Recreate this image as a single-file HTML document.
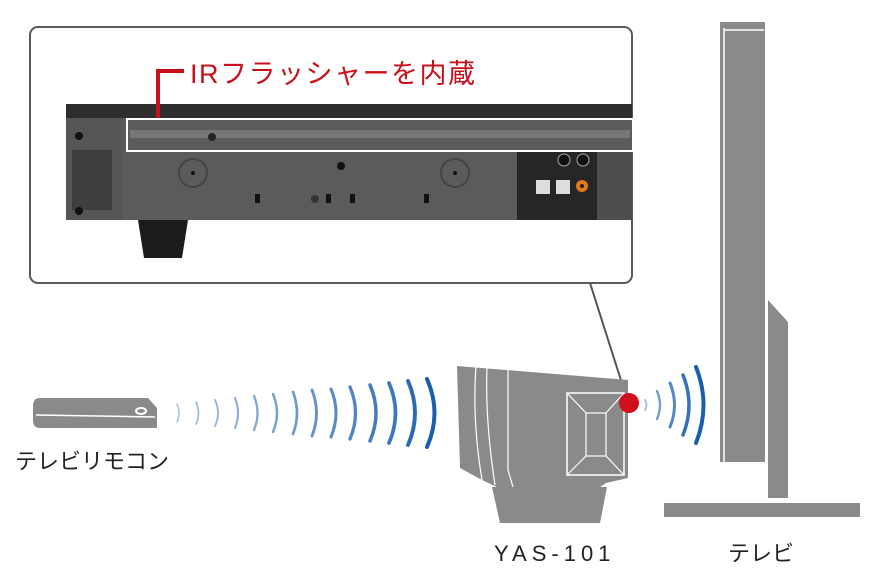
<!DOCTYPE html>
<html><head><meta charset="utf-8"><style>
html,body{margin:0;padding:0;background:#fff;}
svg{display:block;}
text{font-family:"Liberation Sans","Noto Sans CJK JP",sans-serif;}
</style></head><body>
<svg width="872" height="573" viewBox="0 0 872 573" xmlns="http://www.w3.org/2000/svg">
<rect x="30" y="27" width="602" height="256" rx="8" fill="#fff" stroke="#5a5a5a" stroke-width="2"/>
<rect x="66" y="104" width="566" height="15" fill="#2e2e2e"/>
<rect x="66" y="118" width="566" height="102" fill="#5b5b5b"/>
<rect x="66" y="118" width="56" height="102" fill="#555"/>
<rect x="72" y="150" width="40" height="60" fill="#3e3e3e"/>
<rect x="517" y="150" width="115" height="70" fill="#262626"/>
<rect x="597" y="150" width="35" height="70" fill="#4e4e4e"/>
<path d="M138 220 L188 220 L182 258 L144 258 Z" fill="#1c1c1c"/>
<rect x="127" y="119" width="506" height="32" fill="none" stroke="#fff" stroke-width="2"/>
<rect x="130" y="130" width="500" height="8" fill="#777"/>
<circle cx="79" cy="136" r="4" fill="#111"/><circle cx="79" cy="211" r="4" fill="#111"/>
<circle cx="193" cy="173" r="14" fill="none" stroke="#444" stroke-width="2"/><circle cx="193" cy="173" r="2" fill="#111"/>
<circle cx="455" cy="173" r="14" fill="none" stroke="#444" stroke-width="2"/><circle cx="455" cy="173" r="2" fill="#111"/>
<circle cx="341" cy="166" r="4" fill="#111"/><circle cx="212" cy="137" r="4" fill="#222"/>
<circle cx="315" cy="199" r="4" fill="#333"/>
<rect x="255" y="194" width="5" height="9" fill="#111"/><rect x="326" y="194" width="5" height="9" fill="#111"/>
<rect x="350" y="194" width="5" height="9" fill="#111"/><rect x="424" y="194" width="5" height="9" fill="#111"/>
<rect x="536" y="180" width="14" height="14" fill="#ddd"/><rect x="556" y="180" width="14" height="14" fill="#ddd"/>
<circle cx="582" cy="186" r="6" fill="#e07a1a"/><circle cx="582" cy="186" r="2" fill="#222"/>
<circle cx="564" cy="160" r="6" fill="#111" stroke="#aaa"/><circle cx="583" cy="160" r="6" fill="#111" stroke="#aaa"/>
<path d="M158 118 V71 H184" fill="none" stroke="#c8101c" stroke-width="4"/>
<text x="190" y="83" font-size="27" fill="#c8101c" letter-spacing="1.5">IRフラッシャーを内蔵</text>
<line x1="590" y1="283" x2="626" y2="396" stroke="#555" stroke-width="2"/>
<path d="M457 366 L628 380 L628 478 L606 483 L600 487 L497 487 L482 480 L460 468 Z" fill="#8a8a8a"/>
<path d="M492 487 L607 487 L600 523 L500 523 Z" fill="#8a8a8a"/>
<path d="M476 366 Q472 420 482 480 M487 367 Q485 420 495 485 M508 368 V470 L513 487" fill="none" stroke="#fff" stroke-width="1.2"/>
<rect x="567" y="393" width="57" height="82" fill="none" stroke="#fff" stroke-width="1.5"/>
<rect x="586" y="413" width="20" height="43" fill="none" stroke="#fff" stroke-width="1.2"/>
<path d="M567 393 L586 413 M624 393 L606 413 M567 475 L586 456 M624 475 L606 456" stroke="#fff" stroke-width="1.2"/>
<circle cx="629" cy="403" r="10" fill="#d0101c"/>
<path d="M720 22 L765 22 L765 462 L720 462 Z" fill="#8a8a8a"/>
<line x1="725" y1="30" x2="764" y2="30" stroke="#fff" stroke-width="1.5"/>
<line x1="724" y1="28" x2="724" y2="462" stroke="#fff" stroke-width="1.5"/>
<path d="M768 300 L788 322 L788 498 L768 498 Z" fill="#8a8a8a"/>
<rect x="664" y="503" width="196" height="14" fill="#8a8a8a"/>
<path d="M40 398 L148 398 L157 408 L157 428 L40 428 Q33 428 33 420 L33 406 Q33 398 40 398 Z" fill="#8a8a8a"/>
<path d="M36 415 L155 417" stroke="#fff" stroke-width="1.5"/>
<ellipse cx="141" cy="411" rx="5" ry="3" fill="none" stroke="#fff" stroke-width="2"/>
<g fill="none" stroke-linecap="round">
<path d="M177 404 Q181 413 177 422" stroke="#aac2e2" stroke-width="1.5"/>
<path d="M196 402 Q201 413 196 424" stroke="#a0bbdf" stroke-width="1.7"/>
<path d="M215 400 Q221 413 215 426" stroke="#97b4db" stroke-width="1.9"/>
<path d="M235 398 Q241 413 235 428" stroke="#8daed8" stroke-width="2.1"/>
<path d="M254 396 Q261 413 254 430" stroke="#83a7d4" stroke-width="2.3"/>
<path d="M273 394 Q281 413 273 432" stroke="#79a0d1" stroke-width="2.5"/>
<path d="M293 392 Q301 413 293 434" stroke="#6f99cd" stroke-width="2.7"/>
<path d="M312 390 Q321 413 312 436" stroke="#6592c9" stroke-width="2.9"/>
<path d="M331 389 Q341 413 331 437" stroke="#5b8bc6" stroke-width="3.1"/>
<path d="M350 387 Q361 413 350 439" stroke="#5184c2" stroke-width="3.3"/>
<path d="M370 385 Q382 413 370 441" stroke="#477dbe" stroke-width="3.5"/>
<path d="M389 383 Q402 413 389 443" stroke="#3d76ba" stroke-width="3.7"/>
<path d="M408 381 Q422 413 408 445" stroke="#2a6ab4" stroke-width="3.9"/>
<path d="M427 379 Q442 413 427 447" stroke="#1a5fae" stroke-width="4"/>
</g>
<g fill="none" stroke-linecap="round">
<path d="M645 400 Q648 405 645 410" stroke="#a0bbdf" stroke-width="1.8"/>
<path d="M657 391 Q663 405 657 419" stroke="#7aa0d1" stroke-width="2.5"/>
<path d="M670 383 Q679 405 670 427" stroke="#5587c3" stroke-width="3"/>
<path d="M683 375 Q695 405 683 435" stroke="#3572b8" stroke-width="3.5"/>
<path d="M696 367 Q711 405 696 443" stroke="#1a5fae" stroke-width="4"/>
</g>
<text x="15" y="469" font-size="22" fill="#222">テレビリモコン</text>
<text x="494" y="561" font-size="22" fill="#222" letter-spacing="5">YAS-101</text>
<text x="728" y="561" font-size="22" fill="#222">テレビ</text>
</svg>
</body></html>
